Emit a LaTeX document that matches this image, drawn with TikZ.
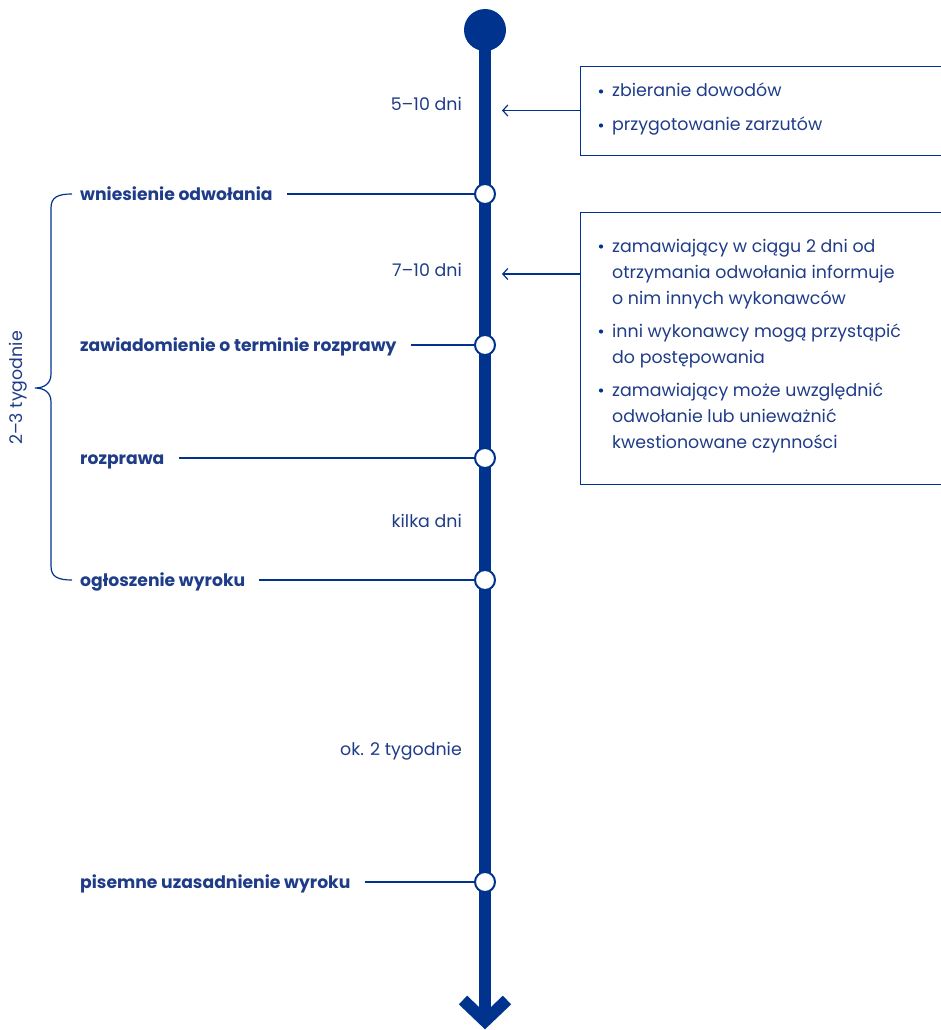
\documentclass[tikz,border=0pt]{standalone}
\usepackage{fontspec}
\setmainfont{Poppins}
\usetikzlibrary{arrows.meta}
\definecolor{navy}{HTML}{00338D}
\definecolor{ink}{HTML}{1F3C88}
\begin{document}
\begin{tikzpicture}[x=1pt,y=-1pt,
  txt/.style={font=\fontsize{17.4}{20}\selectfont, text=ink, inner sep=0pt},
  event/.style={txt, font=\bfseries\fontsize{17.2}{20}\selectfont, anchor=base west},
  dur/.style={txt, anchor=base east},
  line/.style={txt, anchor=base west},
  stopdot/.style={circle, draw=navy, fill=white, line width=2pt, minimum size=20pt, inner sep=0pt},
  tick/.style={draw=navy, line width=1.2pt},
  notebox/.style={draw=navy, line width=1.2pt, anchor=north west, inner sep=0pt},
  pointer/.style={draw=navy, line width=1.2pt, -{Straight Barb[length=5pt,width=11pt,line width=1.2pt]}}
]
\useasboundingbox (0,0) rectangle (941,1030);

% timeline spine with start dot and arrow head
\node[circle, fill=navy, minimum size=42pt, inner sep=0pt] (s0) at (485,30) {};
\coordinate (tail) at (485,1021);
\draw[navy, line width=12pt] (s0.center) -- (tail);
\draw[navy, line width=12pt, miter limit=10] (463,1000) -- (tail) -- (507,1000);

% stops on the timeline
\node[stopdot] (s1) at (485,194) {};
\node[stopdot] (s2) at (485,345) {};
\node[stopdot] (s3) at (485,458) {};
\node[stopdot] (s4) at (485,580) {};
\node[stopdot] (s5) at (485,882) {};

% event labels
\node[event] (e1) at (80,200) {wniesienie odwołania};
\node[event] (e2) at (80,351) {zawiadomienie o terminie rozprawy};
\node[event] (e3) at (80,464) {rozprawa};
\node[event] (e4) at (80,586) {ogłoszenie wyroku};
\node[event] (e5) at (80,888) {pisemne uzasadnienie wyroku};
\foreach \i in {1,...,5}
  \draw[tick] (s\i.west) -- ([xshift=14pt]e\i.east |- s\i);

% durations between stops
\node[dur] (d1) at (462,111) {5–10 dni};
\node[dur] (d2) at (462,276) {7–10 dni};
\node[dur] (d3) at (462,527) {kilka dni};
\node[dur] (d4) at (462,755) {ok. 2 tygodnie};

% brace spanning the appeal phase
\draw[navy, line width=1.2pt]
  (72,194) .. controls (58,194) and (51,197) .. (51,208)
  -- (51,374) .. controls (51,383) and (45,388) .. (35,388)
  .. controls (45,388) and (51,393) .. (51,402)
  -- (51,566) .. controls (51,577) and (58,580) .. (72,580);
\node[txt, rotate=90] (span) at (18,388) {2–3 tygodnie};

% note boxes
\node[notebox, minimum width=380pt, minimum height=89pt] (b1) at (580,66) {};
\node[notebox, minimum width=380pt, minimum height=272pt] (b2) at (580,212) {};
\coordinate (p1) at (502,110.5);
\coordinate (p2) at (502,274);
\draw[pointer] (b1.west |- p1) -- (p1);
\draw[pointer] (b2.west |- p2) -- (p2);

% note texts
\foreach \y in {91.5,125.5,246.5,331.5,390.5}
  \fill[navy] (601,\y) circle (2.1pt);
\node[line] (n11) at (612,97) {zbieranie dowodów};
\node[line] (n12) at (612,131) {przygotowanie zarzutów};
\node[line] (n21) at (612,252) {zamawiający w ciągu 2 dni od};
\node[line] (n22) at (612,278) {otrzymania odwołania informuje};
\node[line] (n23) at (612,304.5) {o nim innych wykonawców};
\node[line] (n24) at (612,337) {inni wykonawcy mogą przystąpić};
\node[line] (n25) at (612,363.5) {do postępowania};
\node[line] (n26) at (612,396) {zamawiający może uwzględnić};
\node[line] (n27) at (612,422) {odwołanie lub unieważnić};
\node[line] (n28) at (612,448.5) {kwestionowane czynności};
\end{tikzpicture}
\end{document}
